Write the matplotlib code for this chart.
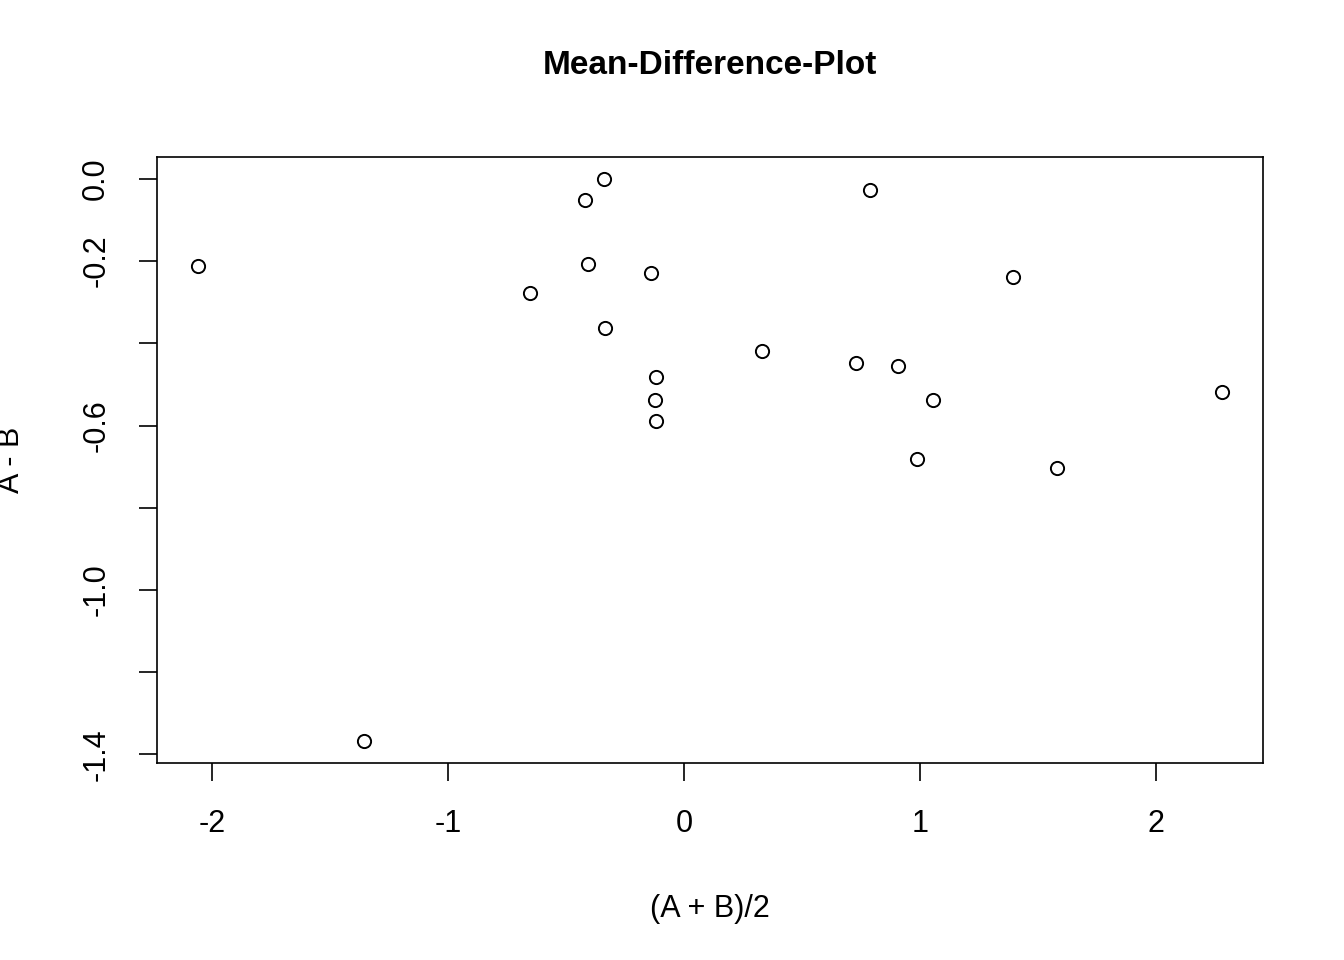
import matplotlib.pyplot as plt
import numpy as np

plt.rcParams['font.family'] = ['Liberation Sans', 'DejaVu Sans']

mean_ab = [-2.06, -1.356, -0.653, -0.419, -0.339, -0.407, -0.335, -0.140, -0.119, -0.123,
           -0.119, 0.331, 0.729, 0.788, 0.907, 1.055, 0.987, 1.394, 1.581, 2.280]
diff_ab = [-0.212, -1.367, -0.277, -0.051, 0.0, -0.207, -0.363, -0.229, -0.482, -0.538,
           -0.589, -0.418, -0.448, -0.027, -0.455, -0.538, -0.681, -0.238, -0.703, -0.518]
xticks = [-2, -1, 0, 1, 2]
yticks = [0.0, -0.2, -0.4, -0.6, -0.8, -1.0, -1.2, -1.4]
ylabels = ['0.0', '-0.2', '', '-0.6', '', '-1.0', '', '-1.4']

fig = plt.figure(figsize=(13.44, 9.6), dpi=100)
ax = fig.add_axes([0.1168, 0.2052, 0.8229, 0.6313])
ax.plot(mean_ab, diff_ab, 'o', mfc='none', mec='black', ms=9.5, mew=1.4)
ax.set_xlim(-2.233, 2.453)
ax.set_ylim(-1.421, 0.0535)
ax.set_xticks(xticks)
ax.set_xticklabels([str(t) for t in xticks])
ax.set_yticks(yticks)
ax.set_yticklabels(ylabels, rotation=90, va='center')
ax.tick_params(length=13, width=1.2, labelsize=22, pad=20)
for s in ax.spines.values():
    s.set_linewidth(1.2)
ax.set_xlabel('(A + B)/2', fontsize=22, labelpad=40)
ax.set_ylabel('A - B', fontsize=22, labelpad=40)
ax.set_title('Mean-Difference-Plot', fontsize=24, fontweight='bold', pad=60)
fig.savefig('out.png', dpi=100)
